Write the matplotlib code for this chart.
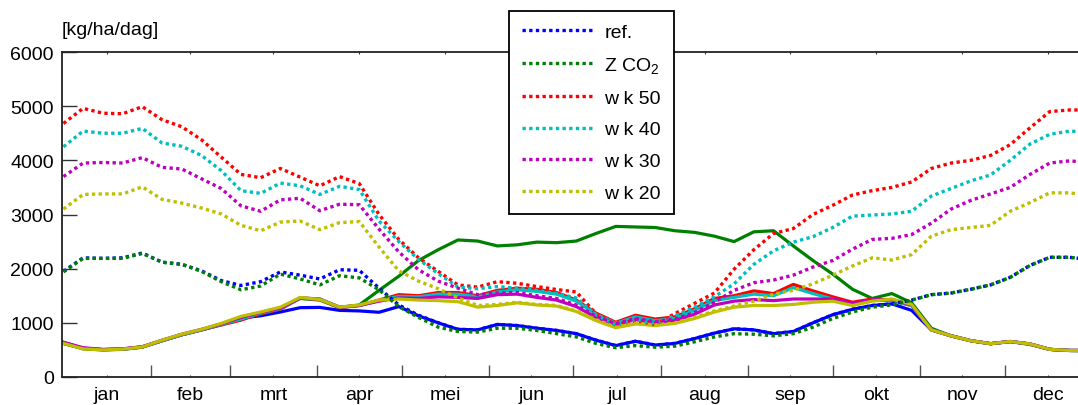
import numpy as np
import matplotlib
matplotlib.use("Agg")
import matplotlib.pyplot as plt
from matplotlib.lines import Line2D

plt.rcParams["font.family"] = ["Liberation Sans", "DejaVu Sans"]
plt.rcParams["mathtext.fontset"] = "custom"
plt.rcParams["mathtext.rm"] = "Liberation Sans"
plt.rcParams["mathtext.it"] = "Liberation Sans:italic"

# day of year (0 = 1 jan), weekly
days = list(range(0, 365, 7))

months = ["jan", "feb", "mrt", "apr", "mei", "jun", "jul", "aug", "sep", "okt", "nov", "dec"]
month_len = [31, 28, 31, 30, 31, 30, 31, 31, 30, 31, 30, 31]

series_names = ["ref.", "Z CO$_2$", "w k 50", "w k 40", "w k 30", "w k 20"]

# dotted series [kg/ha/dag]
ref_dot = [1950, 2200, 2190, 2200, 2290, 2120, 2080, 1960, 1780, 1690, 1760, 1940, 1880, 1810, 1980,
           1970, 1640, 1330, 1140, 1000, 880, 870, 970, 950, 900, 860, 800, 680, 580, 660,
           590, 620, 710, 810, 890, 870, 800, 840, 1000, 1150, 1250, 1320, 1350, 1420, 1520,
           1550, 1620, 1700, 1840, 2060, 2210, 2210, 2170]
co2_dot = [1940, 2190, 2190, 2190, 2280, 2120, 2080, 1950, 1760, 1610, 1680, 1900, 1810, 1700, 1870,
           1830, 1610, 1300, 1100, 920, 840, 830, 900, 900, 860, 800, 740, 620, 540, 580,
           550, 570, 650, 740, 800, 790, 760, 800, 920, 1080, 1200, 1290, 1330, 1420, 1520,
           1550, 1620, 1700, 1840, 2060, 2210, 2210, 2170]
wk50_dot = [4680, 4960, 4870, 4860, 4990, 4750, 4620, 4380, 4060, 3740, 3680, 3850, 3690, 3530, 3700,
            3570, 3000, 2540, 2200, 1950, 1700, 1660, 1760, 1730, 1670, 1615, 1570, 1170, 960, 1040,
            970, 1170, 1360, 1550, 1990, 2350, 2650, 2740, 3000, 3170, 3360, 3440, 3500, 3600, 3850,
            3950, 4000, 4090, 4290, 4600, 4900, 4930, 4930]
wk40_dot = [4250, 4540, 4500, 4500, 4590, 4320, 4260, 4090, 3810, 3440, 3390, 3580, 3530, 3370, 3520,
            3460, 2880, 2500, 2170, 1910, 1660, 1630, 1670, 1640, 1600, 1540, 1460, 1150, 960, 1060,
            990, 1130, 1290, 1480, 1720, 2080, 2330, 2490, 2590, 2760, 2970, 2990, 3010, 3060, 3340,
            3480, 3620, 3730, 4000, 4300, 4480, 4540, 4520]
wk30_dot = [3700, 3950, 3960, 3950, 4050, 3870, 3840, 3660, 3480, 3160, 3060, 3270, 3300, 3070, 3190,
            3180, 2730, 2310, 1980, 1770, 1640, 1520, 1550, 1560, 1500, 1450, 1330, 1120, 980, 1080,
            1020, 1070, 1190, 1380, 1600, 1740, 1790, 1880, 2030, 2150, 2360, 2540, 2560, 2630, 2840,
            3100, 3260, 3380, 3500, 3740, 3950, 3990, 3960]
wk20_dot = [3100, 3370, 3380, 3380, 3510, 3280, 3210, 3120, 3010, 2800, 2700, 2860, 2880, 2720, 2850,
            2870, 2400, 1960, 1770, 1630, 1460, 1320, 1340, 1380, 1340, 1320, 1220, 1060, 920, 990,
            960, 1000, 1100, 1220, 1310, 1400, 1530, 1600, 1720, 1880, 2050, 2200, 2160, 2260, 2600,
            2720, 2760, 2800, 3060, 3220, 3400, 3400, 3350]

# solid series [kg/ha/dag]
ref_sol = [620, 530, 505, 515, 555, 670, 780, 870, 970, 1090, 1130, 1200, 1280, 1285, 1230,
           1220, 1195, 1300, 1130, 1000, 880, 870, 970, 950, 900, 860, 800, 680, 580, 660,
           590, 620, 710, 810, 890, 870, 800, 840, 1000, 1150, 1250, 1320, 1350, 1230, 870,
           760, 670, 615, 655, 610, 510, 490, 490]
co2_sol = [620, 520, 500, 510, 550, 670, 780, 870, 970, 1080, 1160, 1270, 1450, 1420, 1280,
           1330, 1600, 1860, 2150, 2350, 2530, 2510, 2420, 2440, 2490, 2480, 2510, 2650, 2780, 2770,
           2760, 2700, 2670, 2600, 2500, 2680, 2700, 2420, 2150, 1900, 1620, 1450, 1540, 1370, 900,
           760, 670, 615, 655, 600, 510, 490, 480]
wk50_sol = [640, 530, 505, 515, 555, 670, 780, 870, 960, 1050, 1170, 1250, 1460, 1440, 1280,
            1320, 1420, 1520, 1500, 1560, 1560, 1500, 1600, 1640, 1620, 1560, 1420, 1180, 1010, 1140,
            1070, 1110, 1260, 1450, 1500, 1590, 1540, 1710, 1590, 1480, 1380, 1440, 1410, 1320, 870,
            760, 670, 615, 655, 610, 510, 490, 490]
wk40_sol = [640, 530, 505, 515, 555, 670, 780, 870, 970, 1070, 1180, 1260, 1460, 1440, 1290,
            1320, 1410, 1490, 1480, 1530, 1530, 1480, 1570, 1610, 1580, 1530, 1400, 1160, 990, 1110,
            1040, 1080, 1230, 1410, 1470, 1530, 1500, 1650, 1540, 1440, 1340, 1420, 1410, 1320, 870,
            760, 670, 615, 655, 610, 510, 490, 490]
wk30_sol = [640, 540, 510, 520, 560, 680, 790, 880, 980, 1100, 1190, 1270, 1460, 1430, 1290,
            1320, 1400, 1460, 1450, 1480, 1470, 1450, 1520, 1530, 1470, 1420, 1300, 1100, 960, 1060,
            1000, 1040, 1160, 1330, 1400, 1430, 1410, 1440, 1440, 1440, 1360, 1420, 1430, 1330, 870,
            760, 670, 615, 655, 610, 510, 490, 490]
wk20_sol = [620, 520, 500, 515, 555, 680, 790, 880, 990, 1120, 1200, 1290, 1470, 1430, 1290,
            1330, 1420, 1440, 1420, 1410, 1390, 1290, 1320, 1370, 1330, 1310, 1210, 1040, 910, 980,
            950, 990, 1080, 1200, 1290, 1320, 1320, 1340, 1380, 1400, 1320, 1400, 1440, 1340, 870,
            760, 670, 615, 655, 610, 510, 490, 490]

colors = ["#0000ff", "#008000", "#ff0000", "#00bfbf", "#bf00bf", "#bfbf00"]
solid = [ref_sol, co2_sol, wk50_sol, wk40_sol, wk30_sol, wk20_sol]
dotted = [ref_dot, co2_dot, wk50_dot, wk40_dot, wk30_dot, wk20_dot]

FS = 14
DOTS = (0, (1, 1.0))

fig = plt.figure(figsize=(10.78, 4.06), dpi=100)
ax = fig.add_axes([62 / 1078, 28 / 406, 1031.4 / 1078, 325 / 406])

for vals, c in zip(solid, colors):
    ax.plot(days, vals, color=c, lw=2.3, solid_joinstyle="round")

handles = []
for vals, c in zip(dotted, colors):
    ax.plot(days, vals, color=c, lw=2.4, linestyle=DOTS)
    handles.append(Line2D([], [], color=c, lw=2.4, linestyle=DOTS))

ax.set_xlim(-0.5, 365.5)
ax.set_ylim(0, 6000)
ax.set_yticks(range(0, 6001, 1000))

starts = np.cumsum([0] + month_len[:-1])
mids = [s + n / 2 for s, n in zip(starts, month_len)]
ax.set_xticks(mids)
ax.set_xticklabels(months)
ax.set_xticks(list(starts[1:]), minor=True)

ax.tick_params(axis="both", which="major", labelsize=FS, direction="in", colors="#333333",
               labelcolor="black")
ax.tick_params(axis="x", which="major", length=1.5, top=True, pad=6.5)
ax.tick_params(axis="x", which="minor", length=8.5, width=1.0, bottom=True, top=False,
               direction="in", colors="#555555")
ax.tick_params(axis="y", length=10.8, width=1.0, right=True, pad=6)

for sp in ax.spines.values():
    sp.set_linewidth(1.3)
    sp.set_color("#222222")

fig.text(62 / 1078, 1 - 35 / 406, "[kg/ha/dag]", fontsize=FS, va="baseline", ha="left")

leg = ax.legend(handles, series_names, loc="upper left",
                bbox_to_anchor=(509 / 1078, 1 - 12 / 406), bbox_transform=fig.transFigure,
                borderaxespad=0, fontsize=FS, handlelength=3.75, handletextpad=0.5,
                labelspacing=0.72, borderpad=0.65, fancybox=False, framealpha=1,
                edgecolor="black")
leg.get_frame().set_linewidth(1.3)

fig.savefig("out.png", dpi=100)
